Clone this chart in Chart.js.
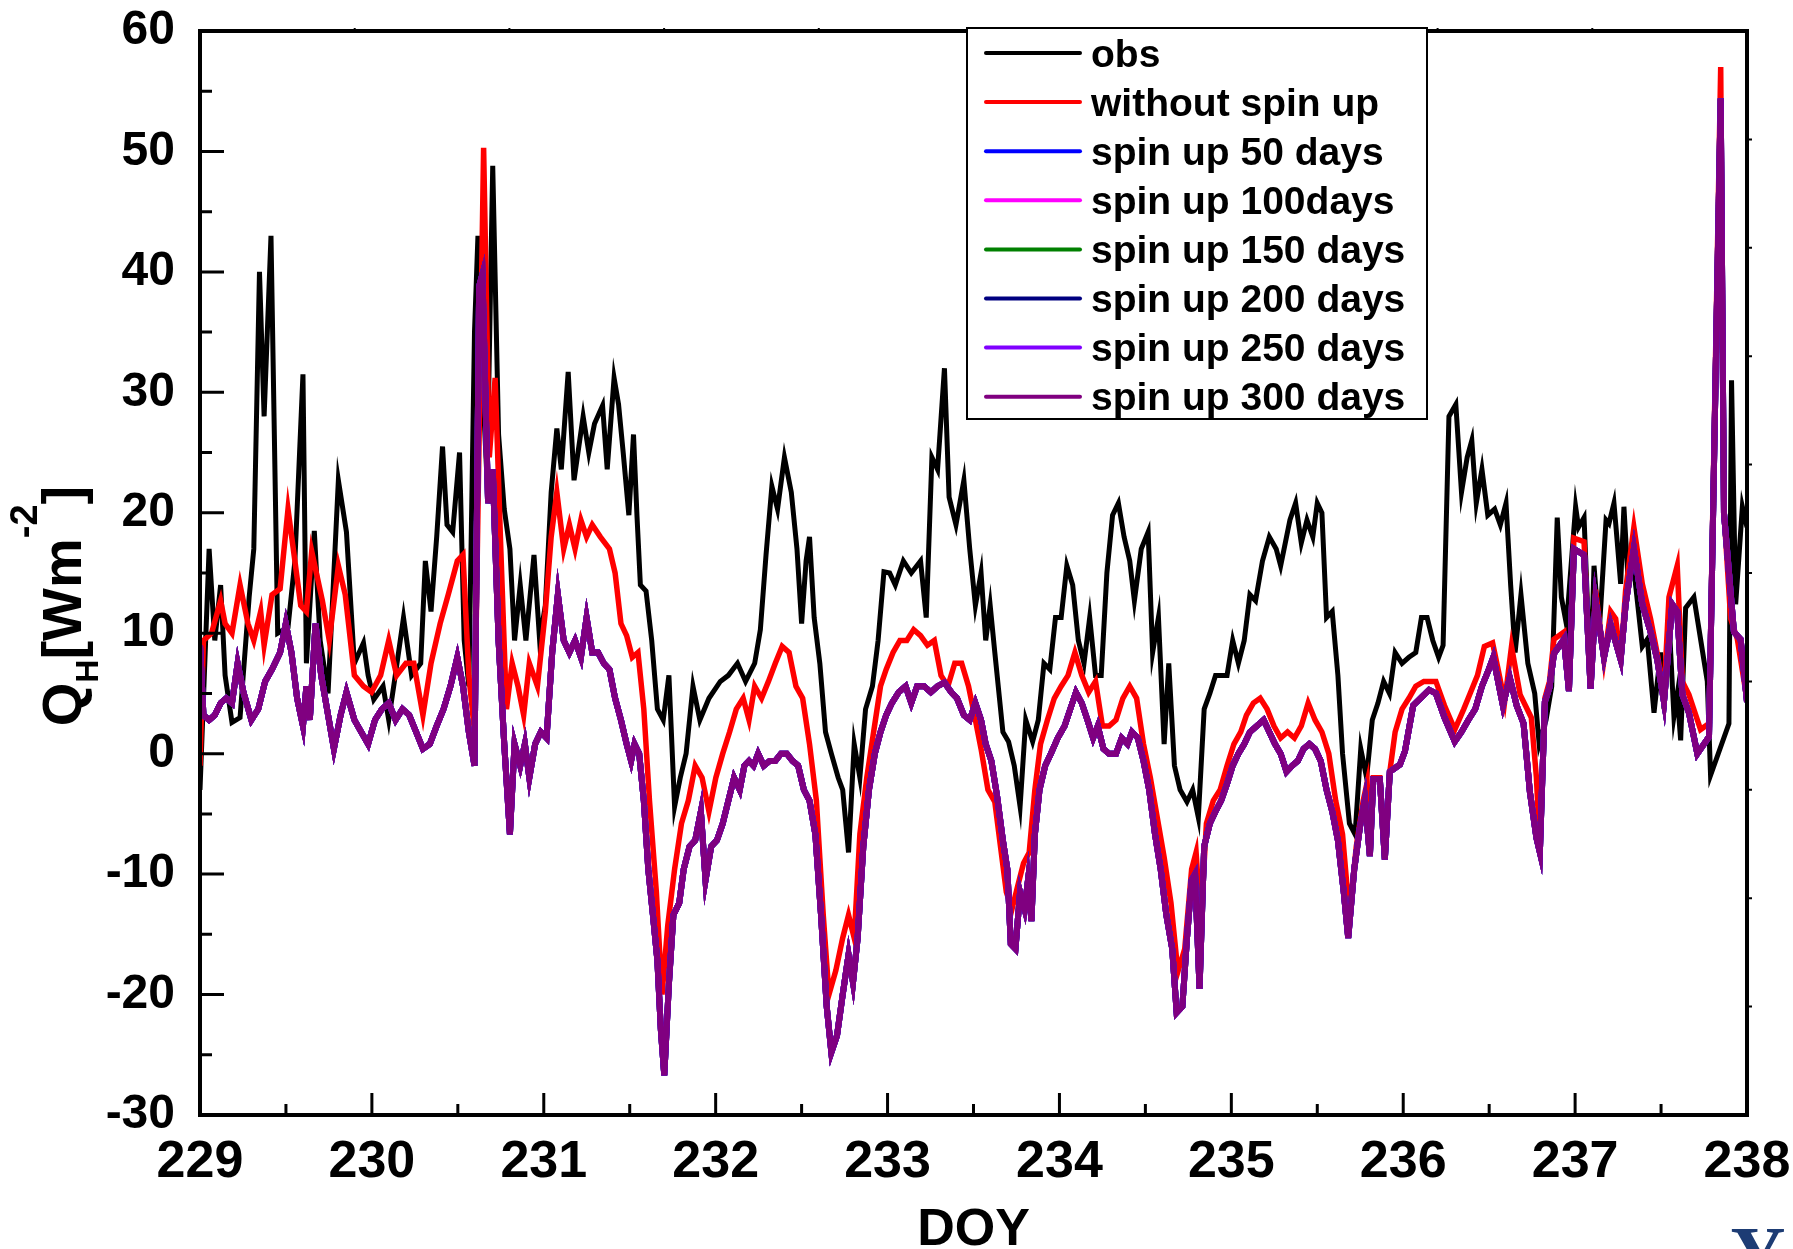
<!DOCTYPE html>
<html>
<head>
<meta charset="utf-8">
<script src="https://cdn.jsdelivr.net/npm/chart.js@4.4.1/dist/chart.umd.min.js"></script>
<style>
  html, body { margin: 0; padding: 0; background: #fff; }
  #wrap { width: 1793px; height: 1249px; position: relative; }
</style>
</head>
<body>
<div id="wrap"><canvas id="chart"></canvas></div>
<script>
// [DOY, Q_H] pairs
const obsSeries = [
  [229.000, -3], [229.053, 17], [229.086, 9.4], [229.120, 14], [229.146, 6.5], [229.186, 2.6], [229.233, 3],
  [229.286, 13], [229.313, 17], [229.346, 40], [229.373, 28], [229.413, 43], [229.452, 10], [229.512, 10.5],
  [229.552, 16], [229.599, 31.5], [229.619, 7.5], [229.665, 18.5], [229.699, 9.4], [229.745, 5], [229.805, 22.7],
  [229.852, 18.4], [229.898, 7.5], [229.951, 9.2], [229.978, 6.5], [230.011, 4.5], [230.065, 5.6], [230.098, 2.8],
  [230.131, 6], [230.184, 11.3], [230.231, 6.5], [230.284, 7.5], [230.311, 16], [230.344, 11.8], [230.377, 18],
  [230.411, 25.5], [230.437, 19], [230.470, 18.4], [230.510, 25], [230.537, 9.4], [230.564, 5.6], [230.597, 35],
  [230.617, 43], [230.643, 31], [230.670, 22.7], [230.703, 48.8], [230.737, 26.5], [230.770, 20.3], [230.803, 17],
  [230.830, 9.4], [230.863, 14], [230.896, 9.4], [230.943, 16.5], [230.976, 9.4], [231.009, 12.3], [231.043, 21.7],
  [231.076, 27], [231.102, 23.6], [231.142, 31.7], [231.176, 22.7], [231.229, 28], [231.262, 25], [231.295, 27.4],
  [231.342, 28.9], [231.369, 23.6], [231.409, 31.2], [231.435, 29], [231.462, 25], [231.495, 19.8], [231.522, 26.5],
  [231.542, 19.8], [231.562, 14], [231.595, 13.5], [231.628, 9.4], [231.661, 3.7], [231.695, 2.8], [231.728, 6.5],
  [231.761, -4.4], [231.794, -2], [231.828, 0], [231.868, 5.6], [231.908, 2.8], [231.961, 4.6], [232.027, 6],
  [232.074, 6.5], [232.127, 7.5], [232.174, 6], [232.227, 7.5], [232.260, 10.3], [232.293, 16.5], [232.327, 22.2],
  [232.360, 20.3], [232.400, 24.6], [232.440, 21.7], [232.473, 17], [232.500, 10.8], [232.526, 16], [232.546, 18],
  [232.573, 11.3], [232.606, 7.5], [232.639, 1.8], [232.673, 0], [232.713, -2], [232.739, -3], [232.773, -8.2],
  [232.806, 0.8], [232.839, -2], [232.872, 3.7], [232.912, 5.6], [232.945, 9.4], [232.979, 15.1], [233.012, 15],
  [233.045, 14], [233.092, 16], [233.138, 15], [233.192, 16], [233.225, 11.3], [233.258, 24.6], [233.291, 23.6],
  [233.331, 32], [233.358, 21.3], [233.398, 19], [233.444, 22.7], [233.478, 17], [233.511, 12.3], [233.544, 15],
  [233.571, 9.4], [233.597, 12.3], [233.624, 8.4], [233.671, 1.8], [233.704, 1], [233.737, -1], [233.771, -4.4],
  [233.804, 2.8], [233.844, 1], [233.877, 2.8], [233.910, 7.5], [233.944, 7], [233.977, 11.3], [234.010, 11.3],
  [234.043, 15.6], [234.077, 14], [234.110, 9.4], [234.143, 7.5], [234.176, 11.3], [234.210, 6.5], [234.243, 6.5],
  [234.276, 15], [234.309, 19.8], [234.343, 20.8], [234.376, 18], [234.409, 16], [234.436, 12.7], [234.476, 17],
  [234.516, 18.4], [234.542, 8.4], [234.576, 11.3], [234.609, 0.8], [234.636, 7.5], [234.669, -1], [234.702, -3],
  [234.742, -4], [234.775, -3], [234.808, -5.3], [234.842, 3.7], [234.875, 5], [234.908, 6.5], [234.941, 6.5],
  [234.975, 6.5], [235.008, 9.4], [235.041, 7.5], [235.075, 9.4], [235.108, 13.2], [235.141, 12.7], [235.181, 16],
  [235.221, 18], [235.261, 17], [235.287, 15.6], [235.341, 19.4], [235.374, 20.8], [235.407, 17.5], [235.440, 19.4],
  [235.474, 18], [235.500, 20.8], [235.527, 20], [235.554, 11.3], [235.587, 11.8], [235.620, 6.5], [235.647, 0],
  [235.687, -5.8], [235.720, -6.7], [235.753, 0.4], [235.787, -2], [235.820, 2.8], [235.853, 4.2], [235.886, 6],
  [235.920, 5], [235.953, 8.4], [235.993, 7.5], [236.033, 8], [236.073, 8.4], [236.106, 11.3], [236.139, 11.3],
  [236.172, 9.4], [236.206, 8], [236.232, 9], [236.266, 28], [236.306, 29], [236.339, 21.7], [236.372, 24.6],
  [236.399, 26], [236.425, 20.8], [236.458, 23.6], [236.492, 19.8], [236.532, 20.3], [236.565, 19], [236.598, 20.8],
  [236.625, 14], [236.651, 8.4], [236.685, 13.2], [236.725, 7.5], [236.765, 5], [236.791, 0.8], [236.831, 2.8],
  [236.864, 5.6], [236.896, 19.6], [236.920, 13], [236.950, 10.7], [237.003, 20.5], [237.020, 18.8], [237.052, 19.6],
  [237.090, 6], [237.110, 15.6], [237.140, 10.1], [237.180, 19.4], [237.197, 19.1], [237.226, 20.8], [237.245, 17.6],
  [237.265, 14.1], [237.284, 20.5], [237.307, 14.7], [237.342, 15.3], [237.391, 8.9], [237.420, 9.5], [237.459, 3.4],
  [237.497, 8.4], [237.517, 3.7], [237.546, 11.2], [237.575, 3.1], [237.594, 4.9], [237.614, 1.1], [237.643, 12.1],
  [237.691, 13], [237.730, 9.5], [237.769, 6], [237.788, -1.8], [237.895, 2.5], [237.910, 31], [237.934, 12.4],
  [237.973, 20.5], [238.000, 18.8]
];

const noSpinSeries = [
  [229.000, -1], [229.020, 9.4], [229.067, 10], [229.120, 12.7], [229.146, 10.8], [229.186, 10], [229.233, 14],
  [229.279, 10.8], [229.313, 9.4], [229.353, 11.8], [229.373, 9], [229.419, 13.2], [229.466, 13.7], [229.512, 20.3],
  [229.552, 16], [229.586, 12.3], [229.619, 11.8], [229.650, 16.8], [229.712, 12.7], [229.752, 9.4], [229.805, 15.6],
  [229.845, 13.2], [229.898, 6.5], [229.951, 5.6], [229.998, 5.1], [230.051, 6.5], [230.098, 9.4], [230.144, 6.5],
  [230.198, 7.5], [230.244, 7.5], [230.297, 3.2], [230.344, 7.5], [230.397, 10.8], [230.444, 13.2], [230.497, 16],
  [230.530, 16.5], [230.564, 6.5], [230.597, 1.8], [230.650, 50.3], [230.683, 24.6], [230.717, 31.2], [230.750, 17],
  [230.783, 3.7], [230.816, 7.5], [230.850, 5.6], [230.883, 3.2], [230.916, 7.5], [230.963, 5.6], [231.009, 11.8],
  [231.043, 18], [231.076, 21.7], [231.116, 17], [231.149, 19], [231.182, 17], [231.216, 19.4], [231.249, 18],
  [231.282, 19], [231.329, 18], [231.382, 17], [231.415, 15], [231.449, 10.8], [231.482, 9.8], [231.515, 8],
  [231.548, 8.4], [231.582, 3.7], [231.615, -3.9], [231.655, -11.5], [231.688, -20], [231.721, -14.3], [231.761, -9.6],
  [231.801, -5.8], [231.841, -3.9], [231.881, -1], [231.921, -2], [231.961, -4.8], [232.001, -2], [232.041, 0],
  [232.081, 1.8], [232.120, 3.7], [232.160, 4.6], [232.194, 2.8], [232.227, 5.6], [232.267, 4.6], [232.307, 6],
  [232.347, 7.5], [232.387, 8.9], [232.427, 8.4], [232.467, 5.6], [232.506, 4.6], [232.546, 0.8], [232.586, -3.9],
  [232.626, -13.4], [232.659, -20], [232.699, -18], [232.739, -15.3], [232.773, -13.4], [232.806, -15.3], [232.839, -6.7],
  [232.879, -2], [232.919, 1.8], [232.959, 5.6], [232.992, 7], [233.032, 8.4], [233.072, 9.4], [233.112, 9.4],
  [233.152, 10.3], [233.192, 9.8], [233.232, 9], [233.272, 9.4], [233.311, 6.5], [233.351, 5.6], [233.391, 7.5],
  [233.431, 7.5], [233.471, 5.6], [233.511, 2.8], [233.544, 0.4], [233.584, -3], [233.624, -4], [233.657, -7.7],
  [233.691, -11.5], [233.724, -12.9], [233.757, -11], [233.791, -9.1], [233.824, -8.2], [233.857, -3], [233.890, 0.8],
  [233.930, 2.8], [233.970, 4.6], [234.010, 5.6], [234.050, 6.5], [234.090, 8.4], [234.130, 6.5], [234.170, 5.1],
  [234.210, 6], [234.250, 2.3], [234.289, 2.3], [234.329, 2.8], [234.369, 4.6], [234.409, 5.6], [234.449, 4.6],
  [234.489, 0.8], [234.529, -2], [234.569, -5.3], [234.609, -8.6], [234.649, -12.4], [234.689, -18.1], [234.729, -16.2],
  [234.769, -9.6], [234.795, -8.2], [234.822, -14], [234.855, -5.8], [234.895, -3.9], [234.935, -3], [234.975, -1],
  [235.015, 0.8], [235.055, 1.8], [235.088, 3.2], [235.128, 4.2], [235.168, 4.6], [235.208, 3.7], [235.248, 2.3],
  [235.287, 1.3], [235.327, 1.8], [235.367, 1.3], [235.407, 2.3], [235.447, 4.2], [235.487, 2.8], [235.527, 1.8],
  [235.567, 0], [235.607, -3.9], [235.647, -6.7], [235.687, -13.4], [235.727, -7.7], [235.767, -3.9], [235.790, -2.4],
  [235.806, -7.9], [235.826, -2], [235.864, -2], [235.893, -8.5], [235.922, -1.5], [235.953, 1.8], [235.993, 3.7],
  [236.033, 4.6], [236.073, 5.6], [236.120, 6], [236.190, 6], [236.240, 4], [236.300, 2], [236.352, 3.7],
  [236.392, 5.1], [236.432, 6.5], [236.472, 8.9], [236.520, 9.2], [236.552, 7], [236.590, 4.3], [236.630, 8.9],
  [236.680, 4.9], [236.745, 3], [236.775, -2], [236.795, -7.9], [236.824, 4.6], [236.851, 6], [236.877, 9.5],
  [236.935, 10.1], [236.964, 5.4], [236.993, 17.9], [237.052, 17.6], [237.090, 5.4], [237.119, 13.6], [237.168, 7.8],
  [237.207, 11.8], [237.236, 11.2], [237.265, 7.8], [237.294, 13.6], [237.342, 18.8], [237.391, 14.1], [237.439, 11.2],
  [237.478, 8.3], [237.517, 4.9], [237.546, 13], [237.594, 15.6], [237.624, 6], [237.662, 4.9], [237.730, 2],
  [237.779, 2.5], [237.847, 57], [237.866, 20], [237.905, 11.2], [237.944, 9.5], [238.000, 4.5]
];

// the six spin-up runs lie on top of each other
const spinUpSeries = [
  [229.000, 9], [229.020, 3.2], [229.053, 2.8], [229.086, 3.2], [229.120, 4.2], [229.153, 4.6], [229.186, 4.2],
  [229.219, 7.5], [229.253, 5.1], [229.299, 2.8], [229.339, 3.7], [229.379, 6], [229.419, 7], [229.466, 8.4],
  [229.499, 10.8], [229.532, 8.4], [229.565, 4.6], [229.599, 2.3], [229.619, 5.6], [229.639, 2.8], [229.672, 10.8],
  [229.705, 6.5], [229.739, 3.7], [229.779, 0.4], [229.818, 3.2], [229.852, 5.1], [229.898, 2.8], [229.938, 1.8],
  [229.978, 0.8], [230.018, 2.8], [230.058, 3.7], [230.098, 4.2], [230.138, 2.8], [230.178, 3.7], [230.217, 3.2],
  [230.257, 1.8], [230.297, 0.4], [230.337, 0.8], [230.377, 2.3], [230.417, 3.7], [230.457, 5.6], [230.497, 8],
  [230.530, 5.6], [230.564, 1.8], [230.597, -1], [230.624, 38.8], [230.643, 39.8], [230.676, 20.8], [230.703, 23.6],
  [230.737, 9.4], [230.770, 0.8], [230.803, -6.7], [230.830, 0.8], [230.863, -1], [230.890, 0.8], [230.916, -2],
  [230.950, 0.8], [230.983, 1.8], [231.016, 1.3], [231.049, 8.4], [231.082, 13.2], [231.116, 9.4], [231.149, 8.4],
  [231.182, 9.4], [231.216, 8], [231.249, 11.3], [231.282, 8.4], [231.316, 8.4], [231.349, 7.5], [231.382, 7],
  [231.415, 4.6], [231.449, 2.8], [231.482, 0.8], [231.508, -0.6], [231.528, 0.8], [231.555, 0], [231.582, -3.9],
  [231.608, -9.6], [231.635, -13.4], [231.661, -17.2], [231.681, -22.9], [231.701, -26.7], [231.728, -19.1],
  [231.754, -13.4], [231.788, -12.4], [231.814, -9.6], [231.848, -7.7], [231.881, -7.2], [231.914, -4.8],
  [231.941, -10.5], [231.974, -7.7], [232.007, -7.2], [232.041, -5.8], [232.074, -3.9], [232.107, -2], [232.140, -3],
  [232.167, -1], [232.194, -0.6], [232.220, -1], [232.247, 0], [232.280, -1], [232.314, -0.6], [232.347, -0.6],
  [232.380, 0], [232.414, 0], [232.447, -0.6], [232.480, -1], [232.513, -3], [232.546, -3.9], [232.580, -6.7],
  [232.613, -13.4], [232.646, -21], [232.673, -24.8], [232.706, -23.4], [232.739, -20], [232.773, -16.7],
  [232.799, -19], [232.826, -15.3], [232.859, -7.7], [232.892, -3], [232.926, 0], [232.959, 1.8], [232.992, 3.2],
  [233.025, 4.2], [233.065, 5.1], [233.105, 5.6], [233.138, 4.2], [233.172, 5.6], [233.212, 5.6], [233.252, 5.1],
  [233.291, 5.6], [233.331, 5.9], [233.371, 5.1], [233.404, 4.6], [233.444, 3.2], [233.478, 2.8], [233.511, 4.2],
  [233.544, 2.8], [233.571, 0.8], [233.604, -0.6], [233.637, -3.5], [233.671, -7.2], [233.697, -9.6], [233.717, -15.8],
  [233.744, -16.2], [233.771, -11.5], [233.797, -12.9], [233.817, -10.5], [233.837, -13.9], [233.857, -6.7],
  [233.884, -3], [233.917, -1], [233.950, 0], [233.990, 1.3], [234.030, 2.3], [234.063, 3.7], [234.096, 5.1],
  [234.130, 4.2], [234.163, 2.8], [234.196, 1.3], [234.223, 2.3], [234.256, 0.4], [234.289, 0], [234.329, 0],
  [234.362, 1.3], [234.396, 0.8], [234.422, 1.8], [234.456, 1.3], [234.489, -0.6], [234.522, -3], [234.556, -6.7],
  [234.589, -9.6], [234.622, -13.4], [234.656, -16.2], [234.682, -21.5], [234.715, -21], [234.742, -15.3],
  [234.769, -10.5], [234.789, -10], [234.815, -19.5], [234.842, -7.7], [234.875, -5.8], [234.908, -4.8],
  [234.941, -3.9], [234.975, -2.5], [235.008, -1], [235.041, 0], [235.075, 0.8], [235.108, 1.8], [235.148, 2.3],
  [235.188, 2.8], [235.221, 1.8], [235.254, 0.8], [235.287, 0], [235.321, -1.5], [235.354, -1], [235.387, -0.6],
  [235.420, 0.4], [235.454, 0.8], [235.487, 0.4], [235.520, -0.6], [235.554, -3], [235.587, -4.8], [235.620, -7.2],
  [235.654, -11.5], [235.680, -15.3], [235.715, -9.6], [235.748, -6.1], [235.777, -3.8], [235.806, -8.5],
  [235.826, -2.1], [235.864, -2.1], [235.893, -8.8], [235.922, -1.5], [235.981, -0.9], [236.010, 0.2], [236.058, 4],
  [236.100, 4.6], [236.150, 5.3], [236.190, 5], [236.240, 3], [236.300, 1], [236.339, 1.8], [236.379, 2.8],
  [236.419, 3.7], [236.458, 5.6], [236.498, 7], [236.524, 8], [236.580, 4], [236.620, 6.3], [236.660, 4],
  [236.700, 2.5], [236.737, -3.2], [236.775, -7], [236.795, -8.2], [236.824, 4.3], [236.851, 5.5], [236.877, 8.3],
  [236.935, 9.5], [236.964, 5.2], [236.993, 17], [237.052, 16.5], [237.090, 5.4], [237.119, 12.7], [237.168, 8],
  [237.207, 10.7], [237.265, 7.8], [237.294, 12.4], [237.342, 17], [237.391, 12.4], [237.439, 10.1], [237.478, 7.8],
  [237.517, 4.3], [237.565, 12.4], [237.594, 11.8], [237.624, 4.9], [237.662, 3.4], [237.711, 0], [237.779, 1.4],
  [237.847, 54.4], [237.866, 20], [237.924, 10.1], [237.963, 9.5], [238.000, 4.3]
];

const seriesLabels = ['obs', 'without spin up', 'spin up 50 days', 'spin up 100days', 'spin up 150 days',
  'spin up 200 days', 'spin up 250 days', 'spin up 300 days'];
const seriesColors = ['#000000', '#ff0000', '#0000ff', '#ff00ff', '#008000', '#000080', '#8000ff', '#800080'];
const seriesData = [obsSeries, noSpinSeries, spinUpSeries, spinUpSeries, spinUpSeries, spinUpSeries, spinUpSeries, spinUpSeries];

const doyMin = 229, doyMax = 238;
const qMin = -30, qMax = 60;

const FONT = '"Liberation Sans", Arial, Helvetica, sans-serif';

// box with inward ticks like the original plot
const framePlugin = {
  id: 'frame',
  afterDatasetsDraw(chart) {
    const { ctx, chartArea: a, scales: { x, y } } = chart;
    ctx.save();
    ctx.strokeStyle = '#000';
    ctx.lineWidth = 3;
    ctx.beginPath();
    for (let v = qMin; v <= qMax; v += 5) {
      const py = y.getPixelForValue(v);
      const len = v % 10 === 0 ? 24 : 12;
      ctx.moveTo(a.left, py); ctx.lineTo(a.left + len, py);
    }
    for (let d = doyMin; d <= doyMax; d += 0.5) {
      const px = x.getPixelForValue(d);
      const len = Number.isInteger(d) ? 22 : 11;
      ctx.moveTo(px, a.bottom); ctx.lineTo(px, a.bottom - len);
    }
    ctx.stroke();
    // tiny outer marks on top/right axes
    ctx.lineWidth = 2;
    ctx.beginPath();
    for (let i = 1; i < 10; i++) {
      const py = a.top + (a.bottom - a.top) * i / 10;
      ctx.moveTo(a.right, py); ctx.lineTo(a.right + 5, py);
      const px = a.left + (a.right - a.left) * i / 10;
      ctx.moveTo(px, a.top); ctx.lineTo(px, a.top - 3);
    }
    ctx.stroke();
    ctx.lineWidth = 4;
    ctx.strokeRect(a.left, a.top, a.right - a.left, a.bottom - a.top);
    ctx.restore();
  }
};

const legendPlugin = {
  id: 'boxLegend',
  afterDraw(chart) {
    const ctx = chart.ctx;
    const bx = 967, by = 28, bw = 460, bh = 391;
    ctx.save();
    ctx.fillStyle = '#fff';
    ctx.fillRect(bx, by, bw, bh);
    ctx.strokeStyle = '#000';
    ctx.lineWidth = 2;
    ctx.strokeRect(bx, by, bw, bh);
    ctx.font = 'bold 39px ' + FONT;
    ctx.textBaseline = 'middle';
    ctx.textAlign = 'left';
    chart.data.datasets.forEach((ds, i) => {
      const cy = 53 + i * 49.1;
      ctx.strokeStyle = ds.borderColor;
      ctx.lineWidth = 4;
      ctx.lineCap = 'round';
      ctx.beginPath();
      ctx.moveTo(986, cy); ctx.lineTo(1080, cy);
      ctx.stroke();
      ctx.fillStyle = '#000';
      ctx.fillText(ds.label, 1091, cy + 3);
    });
    ctx.restore();
  }
};

const titlesPlugin = {
  id: 'titles',
  afterDraw(chart) {
    const { ctx, chartArea: a } = chart;
    ctx.save();
    ctx.fillStyle = '#000';
    // x title
    ctx.font = 'bold 52px ' + FONT;
    ctx.textAlign = 'center';
    ctx.textBaseline = 'alphabetic';
    ctx.fillText('DOY', (a.left + a.right) / 2, 1245);

    // y title: Q_H[Wm^-2]
    const parts = [
      { t: 'Q', size: 56, dy: 0 },
      { t: 'H', size: 32, dy: 17 },
      { t: '[Wm', size: 56, dy: 0 },
      { t: '-2', size: 38, dy: -44 },
      { t: ']', size: 56, dy: 0 }
    ];
    let total = 0;
    parts.forEach(p => { ctx.font = 'bold ' + p.size + 'px ' + FONT; p.w = ctx.measureText(p.t).width; total += p.w; });
    ctx.translate(81, 606);
    ctx.rotate(-Math.PI / 2);
    ctx.textAlign = 'left';
    let cx = -total / 2;
    parts.forEach(p => {
      ctx.font = 'bold ' + p.size + 'px ' + FONT;
      ctx.fillText(p.t, cx, p.dy);
      cx += p.w;
    });
    ctx.restore();

    // clipped watermark glyph at the lower right corner
    ctx.save();
    ctx.fillStyle = '#1d3c74';
    ctx.font = 'bold 76px "Liberation Serif", "DejaVu Serif", serif';
    ctx.textAlign = 'center';
    ctx.textBaseline = 'alphabetic';
    ctx.fillText('Y', 1758, 1279);
    ctx.restore();
  }
};

new Chart(document.getElementById('chart'), {
  type: 'line',
  data: {
    datasets: seriesLabels.map((label, i) => ({
      label,
      data: seriesData[i].map(([d, q]) => ({ x: d, y: q })),
      borderColor: seriesColors[i],
      backgroundColor: seriesColors[i],
      borderWidth: i === 0 ? 5 : (i === 1 ? 5.5 : 6),
      pointRadius: 0,
      tension: 0,
      fill: false,
      order: seriesLabels.length - i,
    })),
  },
  options: {
    responsive: true, maintainAspectRatio: false,
    animation: false,
    devicePixelRatio: 1,
    layout: { padding: { top: 31, right: 46, left: 0, bottom: 0 } },
    plugins: { legend: { display: false }, tooltip: { enabled: false } },
    scales: {
      x: {
        type: 'linear', min: doyMin, max: doyMax,
        grid: { display: false, drawTicks: false },
        border: { display: false },
        ticks: { stepSize: 1, color: '#000', padding: 16, maxRotation: 0,
          font: { size: 52, weight: 'bold', family: FONT } },
        afterFit: s => { s.height = 134; s.paddingLeft = 0; s.paddingRight = 0; },
      },
      y: {
        type: 'linear', min: qMin, max: qMax,
        grid: { display: false, drawTicks: false },
        border: { display: false },
        ticks: { stepSize: 10, color: '#000', padding: 25,
          font: { size: 48, weight: 'bold', family: FONT } },
        afterFit: s => { s.width = 200; s.paddingTop = 0; s.paddingBottom = 0; },
      },
    },
  },
  plugins: [framePlugin, legendPlugin, titlesPlugin],
});
</script>
</body>
</html>
